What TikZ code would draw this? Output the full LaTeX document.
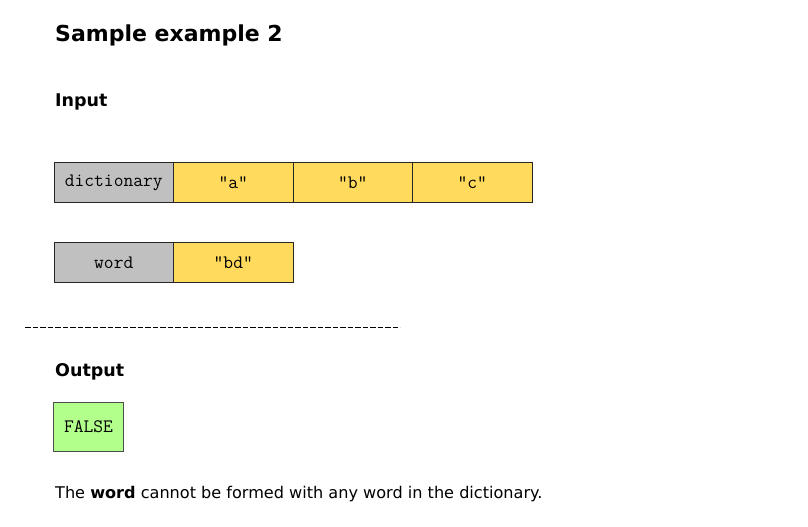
\documentclass[tikz,border=0pt]{standalone}
\usepackage{fontspec}
\setmainfont{DejaVu Sans}
\usetikzlibrary{positioning}
\definecolor{keygray}{HTML}{C0C0C0}
\definecolor{valyellow}{HTML}{FFDA5C}
\definecolor{resgreen}{HTML}{B3FF8C}
\tikzset{
  heading/.style={anchor=base west, inner sep=0pt, font=\bfseries\fontsize{17.5}{20}\selectfont},
  cell/.style={draw=black!85, line width=1pt, outer sep=0pt, inner sep=0pt,
    minimum width=119.5pt, minimum height=40pt, font=\ttfamily\fontsize{19}{21}\selectfont},
  keycell/.style={cell, fill=keygray},
  valcell/.style={cell, fill=valyellow},
}

\begin{document}
\begin{tikzpicture}[x=1pt,y=1pt]
\useasboundingbox[fill=white] (0,0) rectangle (808,-527);
% headings
\node[heading, font=\bfseries\fontsize{22}{26}\selectfont] (title) at (55,-42) {Sample example 2};
\node[heading] (inputlbl) at (55,-106.5) {Input};
% dictionary row
\node[keycell, anchor=north west] (dict) at (54,-162.5) {dictionary};
\node[valcell, right=0pt of dict] (dicta) {"a"};
\node[valcell, right=0pt of dicta] (dictb) {"b"};
\node[valcell, right=0pt of dictb] (dictc) {"c"};
% word row
\node[keycell, below=40pt of dict] (word) {word};
\node[valcell, right=0pt of word] (wordbd) {"bd"};
% separator
\coordinate (sepl) at (25,-327);
\coordinate (sepr) at (400,-327);
\draw[line width=1pt, dash pattern=on 5.8pt off 1.7pt] (sepl) -- (sepr);
% output
\node[heading] (outputlbl) at (55,-376) {Output};
\node[cell, fill=resgreen, draw=black!70, anchor=north west, minimum width=70pt,
  minimum height=49pt] (result) at (53.5,-402) {FALSE};
\node[anchor=base west, inner sep=0pt, font=\fontsize{16.1}{19}\selectfont] (note) at (55,-498)
  {The \textbf{word} cannot be formed with any word in the dictionary.};
\end{tikzpicture}
\end{document}
